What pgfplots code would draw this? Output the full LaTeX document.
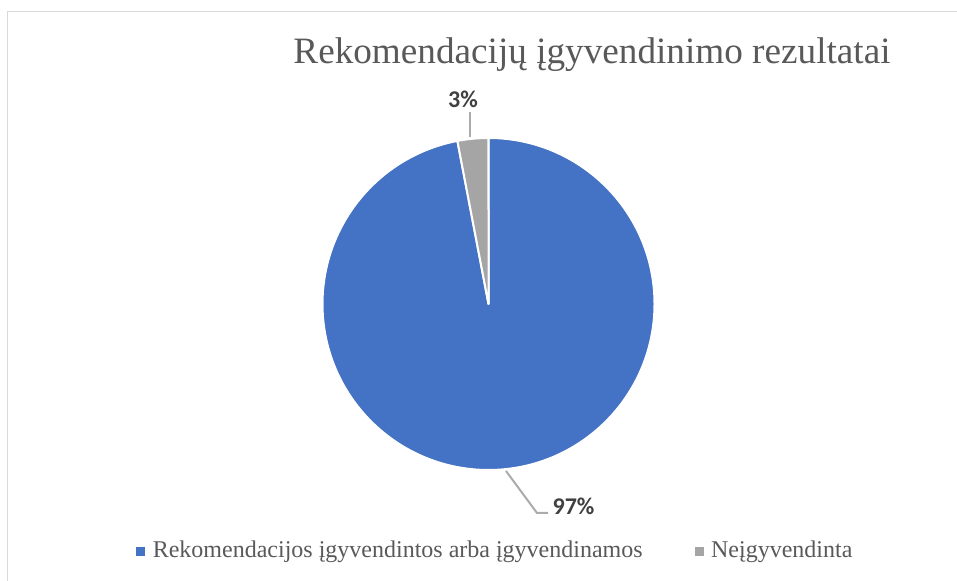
\documentclass[border=0pt]{standalone}
\usepackage{pgfplots}
\usepackage{pgfplotstable}
\pgfplotsset{compat=1.18}
\usepackage{fontspec}
\setmainfont{Liberation Serif}
\newfontfamily\labelfont{Carlito}

\definecolor{pieblue}{HTML}{4472C4}
\definecolor{piegray}{HTML}{A5A5A5}
\definecolor{txtgray}{HTML}{595959}
\definecolor{lblgray}{HTML}{404040}
\definecolor{leadgray}{HTML}{ABABAB}
\definecolor{framegray}{HTML}{D9D9D9}

% shares in percent
\pgfplotstableread{
share
97
3
}\piedata

\begin{document}
\begin{tikzpicture}
\pgfplotstablegetelem{0}{share}\of\piedata \let\sa\pgfplotsretval
\pgfplotstablegetelem{1}{share}\of\piedata \let\sb\pgfplotsretval
\pgfmathsetmacro\angA{90-\sa/(\sa+\sb)*360}
\pgfmathsetmacro\angB{\angA-\sb/(\sa+\sb)*360}
\def\rad{83pt}
\begin{axis}[
  scale only axis, width=478.5pt, height=290.5pt,
  xmin=0, xmax=957, ymin=0, ymax=581,
  hide axis, clip=false,
  legend columns=2,
  legend image code/.code={\fill[#1] (0pt,-2pt) rectangle (4pt,2pt); \path[draw=none,fill=none] (4pt,0) -- (6pt,0);},
  legend style={at={(axis cs:136,30)}, anchor=west, draw=none, fill=none,
    font=\fontsize{12}{14}\selectfont\color{txtgray}, inner sep=0pt,
    /tikz/every even column/.append style={column sep=24pt}},
]
\addlegendimage{pieblue}
\addlegendentry{Rekomendacijos įgyvendintos arba įgyvendinamos}
\addlegendimage{piegray}
\addlegendentry{Neįgyvendinta}

\draw[framegray, line width=0.9pt] (axis cs:7.5,0) -- (axis cs:7.5,569.5) -- (axis cs:957,569.5);

\filldraw[fill=pieblue, draw=white, line width=1pt, line join=round]
  (axis cs:488.5,277) -- ++(90:\rad) arc[start angle=90, end angle=\angA, radius=\rad] -- cycle;
\filldraw[fill=piegray, draw=white, line width=1pt, line join=round]
  (axis cs:488.5,277) -- ++(\angA:\rad) arc[start angle=\angA, end angle=\angB, radius=\rad] -- cycle;

\node[font=\fontsize{18.6}{22}\selectfont, text=txtgray, anchor=base]
  at (axis cs:592,517) {Rekomendacijų įgyvendinimo rezultatai};

\draw[leadgray, line width=1pt] (axis cs:470,469) -- (axis cs:470,444);
\draw[leadgray, line width=1pt] (axis cs:506,110) -- (axis cs:537,68) -- (axis cs:548,68);
\node[font=\labelfont\bfseries\fontsize{12}{14}\selectfont, text=lblgray]
  at (axis cs:463,482) {\sb\%};
\node[font=\labelfont\bfseries\fontsize{12}{14}\selectfont, text=lblgray]
  at (axis cs:573.5,75) {\sa\%};
\end{axis}
\pgfresetboundingbox
\path (0,0) rectangle (478.5pt,290.5pt);
\end{tikzpicture}
\end{document}
